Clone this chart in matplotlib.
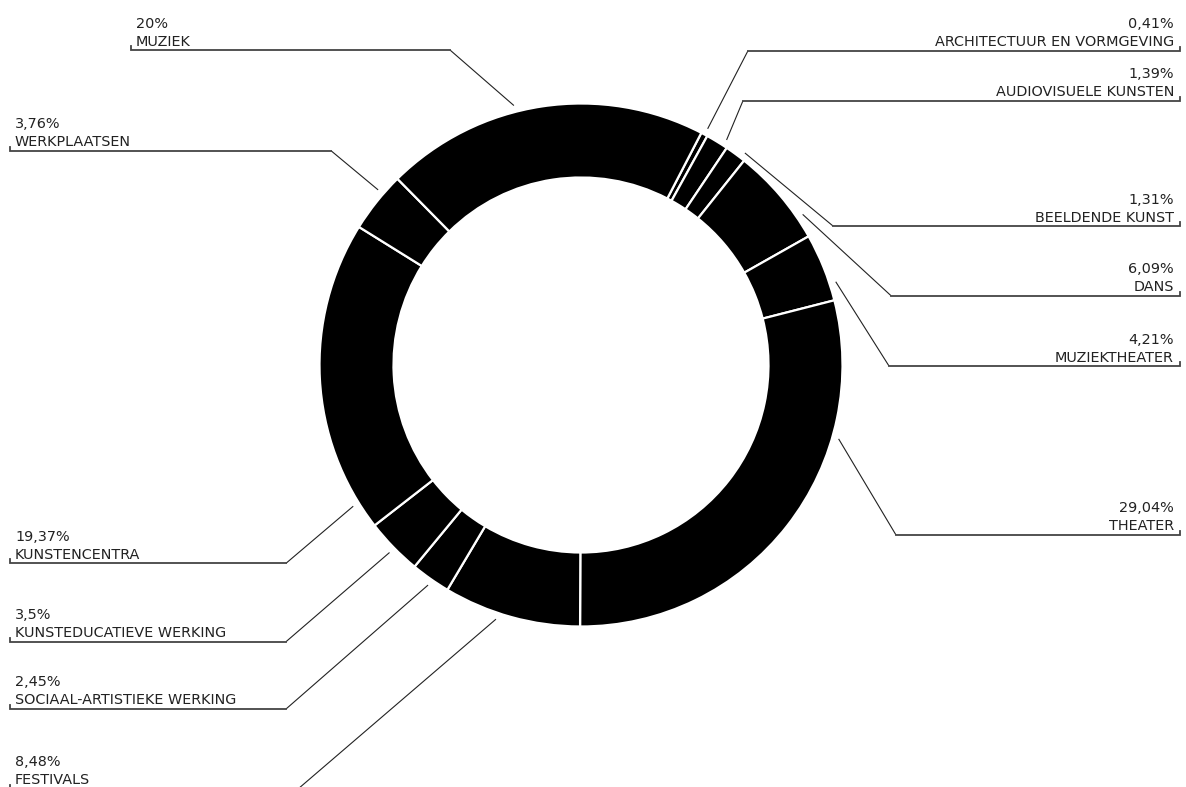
import numpy as np
import matplotlib
matplotlib.use("Agg")
import matplotlib.pyplot as plt

W, H = 1186, 787

# data, clockwise from the top right
categories = [
    "ARCHITECTUUR EN VORMGEVING", "AUDIOVISUELE KUNSTEN", "BEELDENDE KUNST",
    "DANS", "MUZIEKTHEATER", "THEATER", "FESTIVALS",
    "SOCIAAL-ARTISTIEKE WERKING", "KUNSTEDUCATIEVE WERKING", "KUNSTENCENTRA",
    "WERKPLAATSEN", "MUZIEK",
]
shares = [0.41, 1.39, 1.31, 6.09, 4.21, 29.04, 8.48, 2.45, 3.5, 19.37, 3.76, 20]
pct_labels = ["0,41%", "1,39%", "1,31%", "6,09%", "4,21%", "29,04%", "8,48%",
              "2,45%", "3,5%", "19,37%", "3,76%", "20%"]

# label layout (pixel positions in the image, y from the top)
side = ["r", "r", "r", "r", "r", "r", "l", "l", "l", "l", "l", "l"]
underline_y = [50.7, 100.7, 226, 295.7, 366, 535, 789, 709, 641.7, 563.3, 150.7, 50]
bend_x = [748, 743, 833, 891, 889, 896, 298, 286, 286, 286, 331, 450]
end_x = [1180, 1180, 1180, 1180, 1180, 1180, 10, 10, 10, 10, 10, 131]
tip_angle = [28.2, 32.9, 37.7, 55.8, 71.9, 106, 198.5, 214.8, 225.6, 238.2, 310.8, 345.5]

cx, cy = 581, 365
r_out, ring = 261.5, 74
start = 27.4  # degrees clockwise from 12 o'clock


def Y(y):
    return H - y


fig = plt.figure(figsize=(W / 100, H / 100), dpi=100)
ax = fig.add_axes([0, 0, 1, 1])

ax.pie(shares, colors=["black"] * len(shares), startangle=90 - start,
       counterclock=False, radius=r_out, center=(cx, Y(cy)),
       wedgeprops=dict(width=ring, edgecolor="white", linewidth=1.6))

txt_kw = dict(fontsize=10.4, color="#222222", family="DejaVu Sans", va="baseline")
for name, pct, s, uy, bx, ex, ang in zip(categories, pct_labels, side, underline_y,
                                          bend_x, end_x, tip_angle):
    a = np.radians(ang)
    tx = cx + (r_out + 6.5) * np.sin(a)
    ty = cy - (r_out + 6.5) * np.cos(a)
    # leader + underline
    ax.plot([tx, bx], [Y(ty), Y(uy)], color="#222222", lw=0.8, solid_capstyle="butt")
    ax.plot([bx, ex, ex], [Y(uy), Y(uy), Y(uy - 4)], color="#444444", lw=1.3,
            solid_joinstyle="miter")
    if s == "r":
        x, ha = ex - 6, "right"
    else:
        x, ha = ex + 5, "left"
    ax.text(x, Y(uy - 4.5), name, ha=ha, **txt_kw)
    ax.text(x, Y(uy - 22.5), pct, ha=ha, **txt_kw)

ax.set_xlim(0, W)
ax.set_ylim(0, H)
ax.set_aspect("equal")
ax.axis("off")

fig.savefig("out.png", dpi=100, facecolor="white")
